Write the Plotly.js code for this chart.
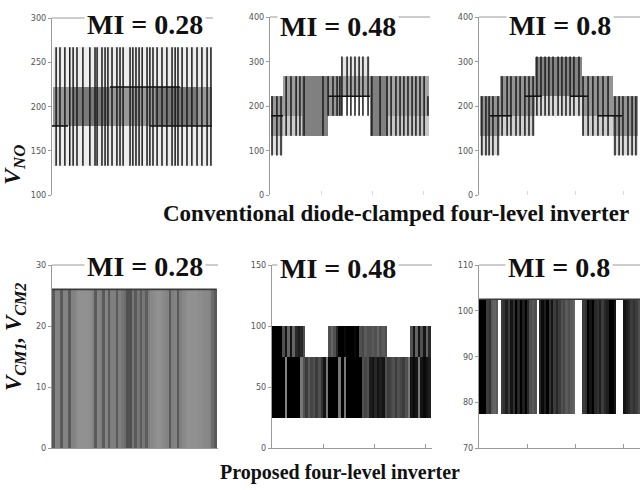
<!DOCTYPE html>
<html><head><meta charset="utf-8">
<script src="https://cdn.plot.ly/plotly-3.0.1.min.js"></script>
<style>html,body{margin:0;padding:0;background:#fff}#chart{width:640px;height:490px}</style>
</head><body><div id="chart"></div>
<script>
// ---------- data (levels in V, time in ms) ----------
// Panel 1: conventional, MI = 0.28
const p1LineT = [1.6,3.1,5.0,6.9,8.2,9.7,12.0,14.7,16.7,17.5,19.4,20.6,21.7,23.3,25.2,26.4,27.6,30.3,31.4,32.6,33.8,35.0,36.9,38.0,39.2,40.8,42.7,44.6,46.6,47.8,48.9,50.5,52.4,54.3,56.3,58.2,60.2,61.7];
const p1LineLo = [133,133,133,133,133,133,133,133,133,133,133,133,133,133,133,133,133,133,133,133,133,133,133,133,133,133,133,133,133,133,133,133,133,133,133,133,133,133];
const p1LineHi = [267,267,267,267,267,267,267,267,267,267,267,267,267,267,267,267,267,267,267,267,267,267,267,267,267,267,267,267,267,267,267,267,267,267,267,267,267,267];
const p1BandStart = [0.5,0.5,8,22,40,56];
const p1BandEnd   = [62,8,22,40,56,62];
const p1BandLo    = [133,178,178,178,178,178];
const p1BandHi    = [267,222,222,222,222,222];
const p1BandDens  = [0.07,0.4,0.52,0.4,0.52,0.4];
const p1DwellStart = [0,22.5,38];
const p1DwellEnd   = [6.2,49.7,62];
const p1DwellLevel = [178,222,178];

// Panel 2: conventional, MI = 0.48
const p2LineT  = [0.8,2.7,4.3,6.3,8.2,10.2,11.7,13.3,20.7,22.7,24.6,26.2,27.3,28.1,30.1,31.6,33.2,34.8,36.3,38.3,39.8,43.0,45.7,47.3,49.2,50.8,52.3,53.9,55.5,57.0,58.6,60.2,61.7];
const p2LineLo = [89,89,89,133,133,133,133,133,133,178,178,178,178,178,178,178,178,178,178,178,133,133,133,133,133,133,133,133,133,133,133,133,178];
const p2LineHi = [222,222,222,267,267,267,267,267,267,267,267,267,267,311,311,311,311,311,311,311,267,267,267,267,267,267,267,267,267,267,267,267,222];
const p2BandStart = [0.4,0.4,5.1,5.1,12.5,22.7,28.1,28.1,39.1,46.1,46.1];
const p2BandEnd   = [5.1,5.1,12.5,12.5,22.7,28.1,39.1,39.1,46.1,62,62];
const p2BandLo    = [133,89,178,133,133,178,222,267,133,178,133];
const p2BandHi    = [222,133,267,178,267,267,267,311,267,267,178];
const p2BandDens  = [0.4,0.12,0.38,0.2,0.5,0.4,0.35,0.1,0.5,0.35,0.22];
const p2DwellStart = [0.4,22.7];
const p2DwellEnd   = [5.1,39.1];
const p2DwellLevel = [178,222];

// Panel 3: conventional, MI = 0.8
const p3LineT  = [1.2,2.9,4.2,5.8,7.9,9.6,11.7,13.3,15.4,17.1,19.1,20.8,22.5,24.1,25.8,27.5,29.1,30.8,32.9,34.5,36.2,37.9,39.5,41.6,43.3,45.4,47.4,49.5,51.6,53.7,56.6,58.3,59.9,62.0,63.7,65.3];
const p3LineLo = [89,89,89,89,89,133,133,133,133,133,133,133,133,178,178,178,178,178,178,178,178,178,178,178,133,133,133,133,133,133,89,89,89,89,89,89];
const p3LineHi = [222,222,222,222,222,267,267,267,267,267,267,267,267,311,311,311,311,311,311,311,311,311,311,311,267,267,267,267,267,267,222,222,222,222,222,222];
const p3BandStart = [0.4,0.4,8.7,8.7,23.3,23.3,42.9,42.9,55.8,55.8];
const p3BandEnd   = [8.7,8.7,23.3,23.3,42.9,42.9,55.8,55.8,66.2,66.2];
const p3BandLo    = [133,89,178,133,222,178,178,133,133,89];
const p3BandHi    = [222,133,267,178,311,222,267,178,222,133];
const p3BandDens  = [0.42,0.15,0.42,0.18,0.48,0.15,0.42,0.18,0.42,0.15];
const p3DwellStart = [4.6,19.1,37.9,49.5];
const p3DwellEnd   = [13.7,26.2,45.4,59.5];
const p3DwellLevel = [178,222,222,178];

// Panel 4: proposed, MI = 0.28 (1 ms bins, switching density)
const p4Levels = [0,26];
const p4Density = [0.8,0.35,0.35,0.8,0.35,0.35,0.8,0.35,0.35,0.25,
 0.2,0.2,0.2,0.2,0.25,0.35,0.8,0.35,0.4,0.8,
 0.35,0.8,0.4,0.4,0.8,0.4,0.5,0.6,0.9,0.9,
 0.5,0.8,0.5,0.8,0.5,0.75,0.4,0.3,0.25,0.2,
 0.2,0.25,0.3,0.35,0.8,0.4,0.35,0.8,0.4,0.3,
 0.25,0.2,0.2,0.2,0.2,0.25,0.25,0.3,0.3,0.35,
 0.6,0.8];

// Panel 5: proposed, MI = 0.48
const p5Levels = [25,75,100];
const p5Lower = [1,1,1,1,1,0.35,1,1,1,1,1,0.4,0.6,0.7,0.55,0.65,0.6,0.7,0.6,0.75,0.9,0.4,1,1,1,1,0.4,1,0.4,1,1,1,1,1,1,0.6,0.65,0.6,0.85,0.9,0.8,0.9,0.85,0.9,0.6,0.7,0.65,0.6,0.7,0.6,0.65,0.7,0.6,0.4,0.9,0.95,0.9,0.4,0.9,0.95,0.9,0.85];
const p5Upper = [1,1,1,1,0.6,0.9,0.5,0.9,0.5,0.8,0.85,0.8,0.6,null,null,null,null,null,null,null,null,null,0.6,0.5,0.6,0.8,1,1,0.95,1,1,1,0.95,1,0.6,0.65,0.55,0.6,0.6,0.55,0.6,0.5,0.6,0.55,0.6,null,null,null,null,null,null,null,null,null,0.6,0.9,0.5,0.9,0.6,0.9,0.5,0.8];

// Panel 6: proposed, MI = 0.8
const p6Levels = [77.5,102.5];
const p6Density = [1,1,1,0.7,0.75,0.55,0.5,0.55,null,0.7,0.75,0.85,0.7,0.9,0.75,1,0.8,1,0.85,1,0.8,0.6,0.55,0.6,null,0.8,0.95,0.85,1,0.75,0.9,0.7,0.8,0.7,0.6,0.65,0.55,0.6,0.55,0.5,null,null,null,0.7,0.75,1,0.9,1,0.8,0.75,0.85,0.7,0.8,0.85,1,1,0.9,null,null,null,0.9,0.85,0.8,0.7,0.75,0.7,0.6];

const titles = ['MI = 0.28','MI = 0.48','MI = 0.8','MI = 0.28','MI = 0.48','MI = 0.8'];

// ---------- builders ----------
const topScale = [[0,'#ffffff'],[1,'#000000']];
const p4Scale = [[0,'#a4a4a4'],[1,'#474747']];
const darkScale = [[0,'#c8c8c8'],[1,'#000000']];
function axn(n){return n===1?'':String(n);}
function bandTrace(s,e,lo,hi,d,n){
  return {type:'bar',x:s.map((v,i)=>(v+e[i])/2),width:s.map((v,i)=>e[i]-v),base:lo,y:hi.map((h,i)=>h-lo[i]),
    marker:{color:d,colorscale:topScale,cmin:0,cmax:1,line:{width:0}},xaxis:'x'+axn(n),yaxis:'y'+axn(n),hoverinfo:'skip',showlegend:false};
}
function lineTrace(t,lo,hi,n){
  const x=[],y=[];t.forEach((v,i)=>{x.push(v,v,null);y.push(lo[i],hi[i],null);});
  return {type:'scatter',mode:'lines',x,y,line:{color:'#1a1a1a',width:1.5},xaxis:'x'+axn(n),yaxis:'y'+axn(n),hoverinfo:'skip',showlegend:false};
}
function dwellTrace(s,e,l,n){
  const x=[],y=[];s.forEach((v,i)=>{x.push(v,e[i],null);y.push(l[i],l[i],null);});
  return {type:'scatter',mode:'lines',x,y,line:{color:'#111',width:1.6},xaxis:'x'+axn(n),yaxis:'y'+axn(n),hoverinfo:'skip',showlegend:false};
}
function colTrace(dens,lo,hi,n,scale){
  const x=[],d=[];dens.forEach((v,i)=>{if(v!==null){x.push(i+0.5);d.push(v);}});
  return {type:'bar',x,y:x.map(()=>hi-lo),base:x.map(()=>lo),width:1.06,
    marker:{color:d,colorscale:scale,cmin:0,cmax:1,line:{width:0}},xaxis:'x'+axn(n),yaxis:'y'+axn(n),hoverinfo:'skip',showlegend:false};
}
function edgeTrace(n,level,len){
  return {type:'scatter',mode:'lines',x:[0,len],y:[level,level],line:{color:'#3a3a3a',width:1.6},xaxis:'x'+axn(n),yaxis:'y'+axn(n),hoverinfo:'skip',showlegend:false};
}

const traces = [
  bandTrace(p1BandStart,p1BandEnd,p1BandLo,p1BandHi,p1BandDens,1),
  lineTrace(p1LineT,p1LineLo,p1LineHi,1),
  dwellTrace(p1DwellStart,p1DwellEnd,p1DwellLevel,1),
  bandTrace(p2BandStart,p2BandEnd,p2BandLo,p2BandHi,p2BandDens,2),
  lineTrace(p2LineT,p2LineLo,p2LineHi,2),
  dwellTrace(p2DwellStart,p2DwellEnd,p2DwellLevel,2),
  bandTrace(p3BandStart,p3BandEnd,p3BandLo,p3BandHi,p3BandDens,3),
  lineTrace(p3LineT,p3LineLo,p3LineHi,3),
  dwellTrace(p3DwellStart,p3DwellEnd,p3DwellLevel,3),
  colTrace(p4Density,p4Levels[0],p4Levels[1],4,p4Scale),
  edgeTrace(4,p4Levels[1],p4Density.length),
  colTrace(p5Lower,p5Levels[0],p5Levels[1],5,darkScale),
  colTrace(p5Upper,p5Levels[1],p5Levels[2],5,darkScale),
  colTrace(p6Density,p6Levels[0],p6Levels[1],6,darkScale),
  edgeTrace(6,p6Levels[1],p6Density.length)
];

// ---------- layout ----------
const W=640,H=490;
const px=v=>v/W, py=v=>1-v/H;
const tickFont={family:'Liberation Sans Narrow, DejaVu Sans Condensed, sans-serif',size:9,color:'#555'};
function yax(dom,range,dtick){
  return {domain:dom,range,dtick,showgrid:false,zeroline:false,showline:true,linecolor:'#9a9a9a',linewidth:1,
    ticks:'outside',ticklen:3,tickcolor:'#9a9a9a',tickfont:tickFont,fixedrange:true};
}
function xax(dom,range,anchor,bottom,showTicks){
  return {domain:dom,range,dtick:20,tick0:0,anchor,showgrid:false,zeroline:false,showticklabels:false,
    showline:bottom,linecolor:'#9a9a9a',linewidth:1,ticks:showTicks?'inside':'',ticklen:4,tickcolor:bottom?'#9a9a9a':'#d8d8d8',fixedrange:true};
}
const topY=[py(195),py(17)], botY=[py(448),py(265)];
const layout={
  width:W,height:H,margin:{l:0,r:0,t:0,b:0},paper_bgcolor:'#fff',plot_bgcolor:'#fff',
  barmode:'overlay',bargap:0,showlegend:false,
  xaxis: xax([px(52),px(213)],[0,62.5],'y',false,false),
  yaxis: yax([py(195),py(18)],[100,300],50),
  xaxis2:xax([px(270),px(430)],[0,62.5],'y2',false,true),
  yaxis2:Object.assign(yax(topY,[0,400],100),{anchor:'x2'}),
  xaxis3:xax([px(479),1],[0,67],'y3',false,true),
  yaxis3:Object.assign(yax(topY,[0,400],100),{anchor:'x3'}),
  xaxis4:xax([px(52),px(218)],[0,62.5],'y4',true,false),
  yaxis4:Object.assign(yax(botY,[0,30],10),{anchor:'x4'}),
  xaxis5:xax([px(272),px(432)],[0,62.5],'y5',true,true),
  yaxis5:Object.assign(yax(botY,[0,150],50),{anchor:'x5'}),
  xaxis6:xax([px(479),1],[0,67],'y6',true,true),
  yaxis6:Object.assign(yax(botY,[70,110],10),{anchor:'x6'}),
  shapes:[1,2,3,4,5,6].map(n=>({type:'line',xref:'x'+axn(n)+' domain',yref:'y'+axn(n)+' domain',x0:0,x1:1,y0:1,y1:1,line:{color:'#9a9a9a',width:1}})),
  annotations:[]
};
const titlePos=[[145,25],[338,27],[560,26],[145,266],[338,268],[559,267]];
titles.forEach((t,i)=>{
  layout.annotations.push({text:'<b>'+t+'</b>',x:px(titlePos[i][0]),y:py(titlePos[i][1]),xref:'paper',yref:'paper',
    xanchor:'center',yanchor:'middle',showarrow:false,bgcolor:'#fff',borderpad:2,
    font:{family:'Liberation Serif, Times New Roman, serif',size:28,color:'#111'}});
});
layout.annotations.push(
  {text:'<b>Conventional diode-clamped four-level inverter</b>',x:px(161),y:py(213),xref:'paper',yref:'paper',xanchor:'left',yanchor:'middle',showarrow:false,
   font:{family:'Liberation Serif, serif',size:23,color:'#111'}},
  {text:'<b>Proposed four-level inverter</b>',x:px(340),y:py(472),xref:'paper',yref:'paper',xanchor:'center',yanchor:'middle',showarrow:false,
   font:{family:'Liberation Serif, serif',size:20,color:'#111'}},
  {text:'<b><i>V<sub>NO</sub></i></b>',x:px(14),y:py(165),xref:'paper',yref:'paper',xanchor:'center',yanchor:'middle',textangle:-90,showarrow:false,
   font:{family:'Liberation Serif, serif',size:24,color:'#111'}},
  {text:'<b><i>V<sub>CM1</sub>, V<sub>CM2</sub></i></b>',x:px(15),y:py(337),xref:'paper',yref:'paper',xanchor:'center',yanchor:'middle',textangle:-90,showarrow:false,
   font:{family:'Liberation Serif, serif',size:23,color:'#111'}}
);
Plotly.newPlot('chart',traces,layout,{staticPlot:true,displayModeBar:false});
</script></body></html>
